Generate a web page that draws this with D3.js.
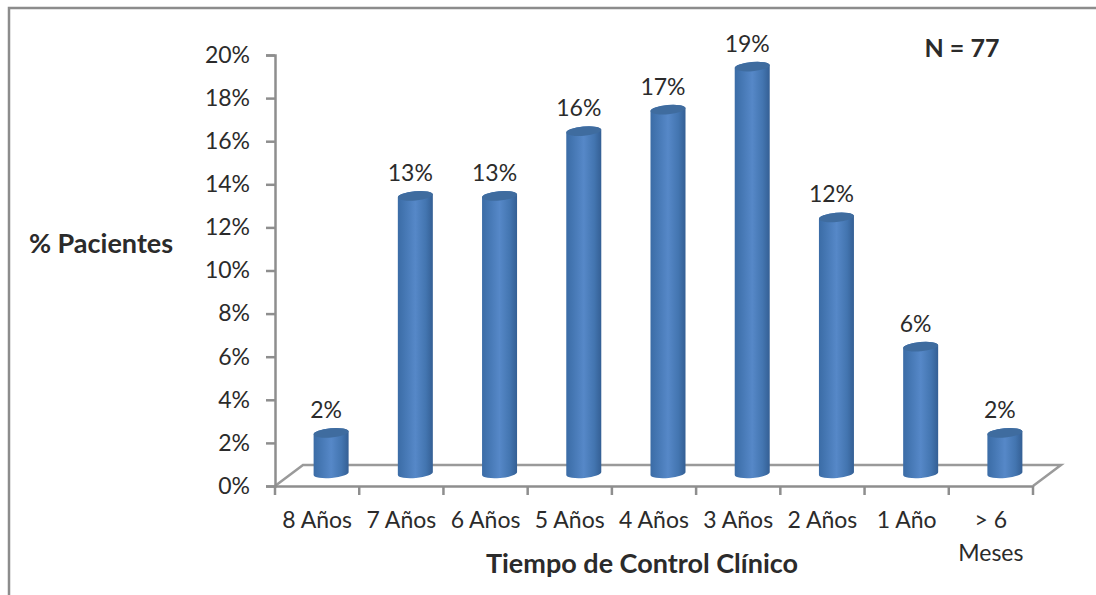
<!DOCTYPE html>
<html>
<head>
<meta charset="utf-8">
<script src="https://cdn.jsdelivr.net/npm/d3@7"></script>
<style>
  body { margin: 0; background: #fff; }
  text { font-family: Lato, "Open Sans", sans-serif; fill: #2b2b2b; }
</style>
</head>
<body>
<svg id="chart" width="1096" height="595"></svg>
<script>
const categories = ["8 Años", "7 Años", "6 Años", "5 Años", "4 Años", "3 Años", "2 Años", "1 Año", "> 6 Meses"]
const percents = [2, 13, 13, 16, 17, 19, 12, 6, 2]
const yTicks = [0, 2, 4, 6, 8, 10, 12, 14, 16, 18, 20]

const svg = d3.select("#chart")
const axisColor = "#8e8e8e"

let x = d3.scaleBand().domain(categories).range([275, 1033])
let y = d3.scaleLinear().domain([0, 20]).range([486, 55])

// 3d offset of the floor and of the bars sitting on it
const depthX = 28, depthY = 21
const barDx = 14, barDy = -10, baseDy = -12.5
const rx = 17.5, ry = 4.6, tilt = 1.6

let defs = svg.append("defs")
let grad = defs.append("linearGradient").attr("id", "cyl")
grad.selectAll("stop")
    .data([[0, "#3b6ca6"], [0.18, "#4476b2"], [0.5, "#5688c8"], [0.8, "#4375b0"], [1, "#345f94"]])
    .enter().append("stop")
    .attr("offset", d => d[0])
    .attr("stop-color", d => d[1])

// page frame, only top and left are visible
svg.append("path")
    .attr("d", "M9,595V8H1096")
    .attr("fill", "none")
    .attr("stroke", "#8c8c8c")
    .attr("stroke-width", 2.5)

// floor
const x0 = x.range()[0], x1 = x.range()[1], y0 = y(0)
svg.append("path")
    .attr("d", `M${x0},${y0}L${x0 + depthX},${y0 - depthY}H${x1 + depthX}L${x1},${y0}`)
    .attr("fill", "none")
    .attr("stroke", "#9a9a9a")
    .attr("stroke-width", 2.5)

// axes
let yAxis = svg.append("g")
    .attr("transform", `translate(${x0},0)`)
    .call(d3.axisLeft(y).tickValues(yTicks).tickFormat(d => d + "%").tickSize(9).tickPadding(16))
let xAxis = svg.append("g")
    .attr("transform", `translate(0,${y0})`)
    .call(d3.axisBottom(x).tickSize(0).tickFormat(""))

xAxis.selectAll(".tick").remove()
xAxis.selectAll("line.edge")
    .data(d3.range(categories.length + 1))
    .enter().append("line")
    .attr("class", "edge")
    .attr("x1", i => x0 + i * x.step())
    .attr("x2", i => x0 + i * x.step())
    .attr("y1", 0)
    .attr("y2", 9)

svg.selectAll(".domain, .tick line, line.edge")
    .attr("stroke", axisColor)
    .attr("stroke-width", 2.5)
yAxis.selectAll("text").style("font-size", "23px").attr("fill", "#2b2b2b")

// category labels, the last one wraps
svg.selectAll("text.cat")
    .data(categories)
    .enter().append("text")
    .attr("class", "cat")
    .attr("text-anchor", "middle")
    .attr("font-size", 23)
    .attr("x", d => x(d) + x.bandwidth() / 2)
    .attr("y", 528)
    .each(function (d) {
        let parts = d === "> 6 Meses" ? ["> 6", "Meses"] : [d]
        d3.select(this).selectAll("tspan")
            .data(parts)
            .enter().append("tspan")
            .attr("x", x(d) + x.bandwidth() / 2)
            .attr("dy", (p, i) => i ? 33 : 0)
            .text(p => p)
    })

// cylinders
const barData = categories.map((c, i) => ({ cat: c, val: percents[i] }))
let bars = svg.selectAll("g.bar")
    .data(barData)
    .enter().append("g")
    .attr("class", "bar")

const cx = d => x(d.cat) + x.bandwidth() / 2 + barDx

bars.append("path")
    .attr("fill", "url(#cyl)")
    .attr("d", d => {
        let top = y(d.val) + barDy, bot = y(0) + baseDy
        let l = cx(d) - rx, r = cx(d) + rx
        return `M${l},${top + tilt}L${l},${bot + tilt}` +
            `A${rx},${ry} -5 0 0 ${r},${bot - tilt}` +
            `L${r},${top - tilt}` +
            `A${rx},${ry} -5 0 0 ${l},${top + tilt}Z`
    })

bars.append("ellipse")
    .attr("fill", "#3f6c9f")
    .attr("cx", d => cx(d))
    .attr("cy", d => y(d.val) + barDy)
    .attr("rx", rx)
    .attr("ry", ry)
    .attr("transform", d => `rotate(-5 ${cx(d)} ${y(d.val) + barDy})`)

// value labels
svg.selectAll("text.val")
    .data(barData)
    .enter().append("text")
    .attr("class", "val")
    .attr("text-anchor", "middle")
    .attr("font-size", 23)
    .attr("x", d => cx(d) - 5)
    .attr("y", d => y(d.val) - 25)
    .text(d => d.val + "%")

// titles
svg.append("text")
    .attr("x", 642).attr("y", 573)
    .attr("text-anchor", "middle")
    .attr("font-size", 27).attr("font-weight", 700)
    .text("Tiempo de Control Clínico")

svg.append("text")
    .attr("x", 101).attr("y", 253)
    .attr("text-anchor", "middle")
    .attr("font-size", 27).attr("font-weight", 700)
    .text("% Pacientes")

svg.append("text")
    .attr("x", 962).attr("y", 57)
    .attr("text-anchor", "middle")
    .attr("font-size", 25).attr("font-weight", 700)
    .text("N = 77")
</script>
</body>
</html>
